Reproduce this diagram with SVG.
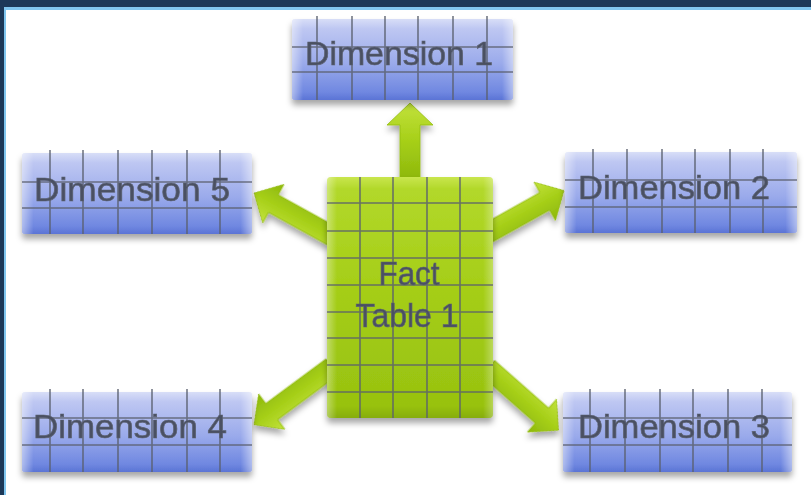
<svg xmlns="http://www.w3.org/2000/svg" width="811" height="495" viewBox="0 0 811 495">
  <defs>
    <linearGradient id="blueV" x1="0" y1="0" x2="0" y2="1">
      <stop offset="0" stop-color="#d8def7"/>
      <stop offset="0.12" stop-color="#bec7f2"/>
      <stop offset="0.55" stop-color="#9aaaeb"/>
      <stop offset="0.9" stop-color="#7088e1"/>
      <stop offset="1" stop-color="#5b74d5"/>
    </linearGradient>
    <linearGradient id="blueH" x1="0" y1="0" x2="1" y2="0">
      <stop offset="0" stop-color="#ffffff" stop-opacity="0.45"/>
      <stop offset="0.05" stop-color="#ffffff" stop-opacity="0"/>
      <stop offset="0.95" stop-color="#ffffff" stop-opacity="0"/>
      <stop offset="1" stop-color="#ffffff" stop-opacity="0.45"/>
    </linearGradient>
    <linearGradient id="greenV" x1="0" y1="0" x2="0" y2="1">
      <stop offset="0" stop-color="#c9e64e"/>
      <stop offset="0.05" stop-color="#b2d82a"/>
      <stop offset="0.5" stop-color="#a4cd16"/>
      <stop offset="0.95" stop-color="#98c210"/>
      <stop offset="1" stop-color="#86ad08"/>
    </linearGradient>
    <linearGradient id="greenH" x1="0" y1="0" x2="1" y2="0">
      <stop offset="0" stop-color="#ffffff" stop-opacity="0.35"/>
      <stop offset="0.06" stop-color="#ffffff" stop-opacity="0"/>
      <stop offset="0.94" stop-color="#ffffff" stop-opacity="0"/>
      <stop offset="1" stop-color="#ffffff" stop-opacity="0.3"/>
    </linearGradient>
    <linearGradient id="arrowG" x1="0" y1="0" x2="0" y2="1">
      <stop offset="0" stop-color="#c2e23c"/>
      <stop offset="0.5" stop-color="#a6cf18"/>
      <stop offset="1" stop-color="#8db70c"/>
    </linearGradient>
    <filter id="shadow" x="-10%" y="-10%" width="120%" height="140%">
      <feDropShadow dx="0" dy="5" stdDeviation="3" flood-color="#000" flood-opacity="0.35"/>
    </filter>
  </defs>
  <style>
    .blue { fill: url(#blueV); }
    .blueHi { fill: url(#blueH); }
    .green { fill: url(#greenV); }
    .greenHi { fill: url(#greenH); }
    .grid { stroke: #5a606e; stroke-opacity: 0.85; stroke-width: 1.6; fill: none; }
    .lbl { font-family: "Liberation Sans", Arial, sans-serif; font-size: 34px; fill: #4a5062; stroke: #5c6272; stroke-width: 0.7; }
    .arrow { fill: url(#arrowG); stroke: #93bd10; stroke-width: 0.8; }
  </style>

  <!-- frame -->
  <rect x="0" y="0" width="811" height="495" fill="#1c3858"/>
  <rect x="4" y="7" width="807" height="488" fill="#80c6ef"/>
  <rect x="6" y="10" width="805" height="485" fill="#ffffff"/>

  <!-- connectors -->
  <g id="connectors" filter="url(#shadow)">
    <polygon class="arrow" points="400,180 400,125 387,125 410,103 433,125 420,125 420,180"/>
    <g transform="translate(332,236) rotate(-151.1)">
      <polygon class="arrow" points="0,-10 67,-10 67,-22 89,0 67,22 67,10 0,10"/>
    </g>
    <g transform="translate(488,233) rotate(-29.2)">
      <polygon class="arrow" points="0,-10 65,-10 65,-22 87,0 65,22 65,10 0,10"/>
    </g>
    <g transform="translate(332,367) rotate(143.5)">
      <polygon class="arrow" points="0,-10 75,-10 75,-22 97,0 75,22 75,10 0,10"/>
    </g>
    <g transform="translate(488,368) rotate(41.4)">
      <polygon class="arrow" points="0,-10 72,-10 72,-22 94,0 72,22 72,10 0,10"/>
    </g>
  </g>

  <!-- Fact table -->
  <g id="fact-table-1">
    <rect x="327" y="177" width="166" height="241" rx="4" class="green" filter="url(#shadow)"/>
    <rect x="327" y="177" width="166" height="241" rx="4" class="greenHi"/>
    <path class="grid" d="M360,177V418 M393,177V418 M427,177V418 M460,177V418 M327,203H493 M327,231H493 M327,258H493 M327,285H493 M327,312H493 M327,338H493 M327,365H493 M327,392H493"/>
    <text class="lbl" x="409" y="285" text-anchor="middle" textLength="61" lengthAdjust="spacingAndGlyphs">Fact</text>
    <text class="lbl" x="407" y="327" text-anchor="middle" textLength="103" lengthAdjust="spacingAndGlyphs">Table 1</text>
  </g>

  <!-- Dimension 1 -->
  <g id="dimension-1">
    <rect x="292" y="19" width="221" height="81" rx="3" class="blue" filter="url(#shadow)"/>
    <rect x="292" y="19" width="221" height="81" rx="3" class="blueHi"/>
    <path class="grid" d="M317,16V100 M352,16V100 M385,16V100 M418,16V100 M453,16V100 M487,16V100 M292,47H513 M292,72H513"/>
    <text class="lbl" x="399" y="65" text-anchor="middle" textLength="188" lengthAdjust="spacingAndGlyphs">Dimension 1</text>
  </g>

  <!-- Dimension 5 -->
  <g id="dimension-5">
    <rect x="22" y="153" width="230" height="81" rx="3" class="blue" filter="url(#shadow)"/>
    <rect x="22" y="153" width="230" height="81" rx="3" class="blueHi"/>
    <path class="grid" d="M50,150V234 M83,150V234 M118,150V234 M152,150V234 M187,150V234 M220,150V234 M22,182H252 M22,208H252"/>
    <text class="lbl" x="132" y="201" text-anchor="middle" textLength="196" lengthAdjust="spacingAndGlyphs">Dimension 5</text>
  </g>

  <!-- Dimension 2 -->
  <g id="dimension-2">
    <rect x="565" y="152" width="232" height="81" rx="3" class="blue" filter="url(#shadow)"/>
    <rect x="565" y="152" width="232" height="81" rx="3" class="blueHi"/>
    <path class="grid" d="M593,149V233 M627,149V233 M662,149V233 M695,149V233 M730,149V233 M763,149V233 M565,180H797 M565,207H797"/>
    <text class="lbl" x="674" y="199" text-anchor="middle" textLength="192" lengthAdjust="spacingAndGlyphs">Dimension 2</text>
  </g>

  <!-- Dimension 4 -->
  <g id="dimension-4">
    <rect x="22" y="392" width="230" height="80" rx="3" class="blue" filter="url(#shadow)"/>
    <rect x="22" y="392" width="230" height="80" rx="3" class="blueHi"/>
    <path class="grid" d="M50,389V472 M83,389V472 M118,389V472 M152,389V472 M187,389V472 M220,389V472 M22,418H252 M22,445H252"/>
    <text class="lbl" x="130" y="438" text-anchor="middle" textLength="194" lengthAdjust="spacingAndGlyphs">Dimension 4</text>
  </g>

  <!-- Dimension 3 -->
  <g id="dimension-3">
    <rect x="563" y="392" width="229" height="80" rx="3" class="blue" filter="url(#shadow)"/>
    <rect x="563" y="392" width="229" height="80" rx="3" class="blueHi"/>
    <path class="grid" d="M590,389V472 M625,389V472 M660,389V472 M693,389V472 M728,389V472 M762,389V472 M563,418H792 M563,445H792"/>
    <text class="lbl" x="674" y="438" text-anchor="middle" textLength="192" lengthAdjust="spacingAndGlyphs">Dimension 3</text>
  </g>
</svg>
